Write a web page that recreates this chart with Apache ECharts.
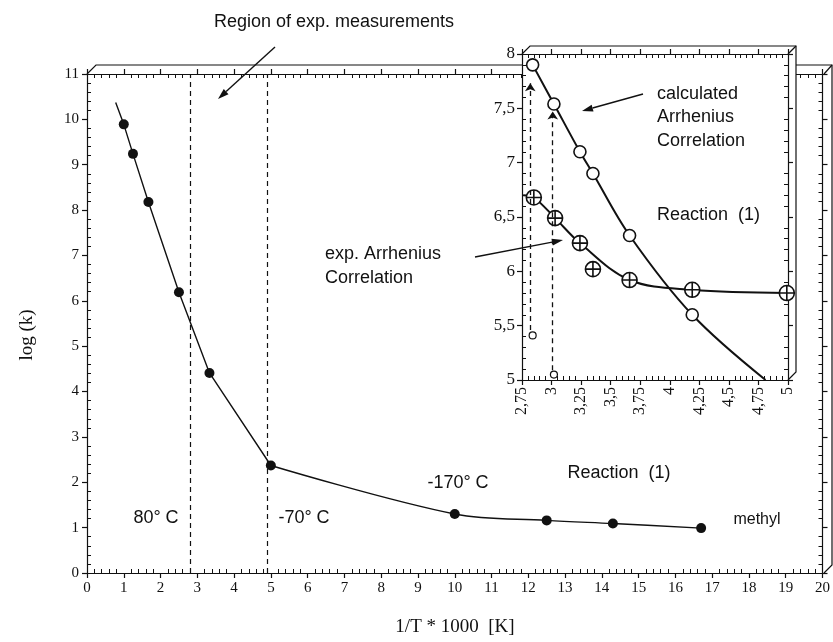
<!DOCTYPE html>
<html><head><meta charset="utf-8">
<script src="https://cdn.jsdelivr.net/npm/echarts@6/dist/echarts.min.js"></script>
<style>html,body{margin:0;padding:0;background:#fff}#c{width:833px;height:642px}</style>
</head><body><div id="c"></div>
<script>
// ---- data ----
// main plot: 1/T*1000 [K] vs log(k)
const mainX = [1.0, 1.25, 1.67, 2.5, 3.33, 5.0, 10.0, 12.5, 14.3, 16.7];
const mainLogK = [9.89, 9.24, 8.18, 6.19, 4.41, 2.37, 1.30, 1.16, 1.09, 0.99];
const mainCurveStart = [0.78, 10.37];
const mainKinkIndex = 5;              // curve is straight up to this point, smooth after
const regionBounds = [2.82, 4.91];    // 80 °C and -70 °C dashed lines
// inset: calculated Arrhenius correlation (open circles)
const calcX = [2.84, 3.02, 3.24, 3.35, 3.66, 4.19];
const calcY = [7.90, 7.54, 7.10, 6.90, 6.33, 5.60];
const calcCurveEnd = [4.81, 5.0];
// inset: experimental Arrhenius correlation (crossed circles)
const expX = [2.85, 3.03, 3.24, 3.35, 3.66, 4.19, 4.99];
const expY = [6.68, 6.49, 6.26, 6.02, 5.92, 5.83, 5.80];
const expCurveStart = [2.76, 6.70];
const expCurveSkip = 3;               // point lying off the fitted curve
// inset: small open circles and dashed arrows
const smallX = [2.84, 3.02];
const smallY = [5.41, 5.05];
const arrowX = [2.82, 3.01];
const arrowFromY = [5.46, 5.09];
const arrowToY = [7.73, 7.47];
// axes
const mainXRange = [0, 20], mainYRange = [0, 11];
const insetXRange = [2.75, 5], insetYRange = [5, 8];

// ---- layout ----
const INK = '#111';
const SERIF = "'Liberation Serif','DejaVu Serif',serif";
const SANS = "'Liberation Sans',Arial,sans-serif";
const MAIN = {l: 87, t: 74, r: 824, b: 573};
const INSET = {l: 522, t: 54, r: 788, b: 380};
const W = 833, H = 642;

const chart = echarts.init(document.getElementById('c'));

function axisPair(dim, gridIndex, position, range, interval, label, z) {
  const common = {type: 'value', gridIndex, position, min: range[0], max: range[1], interval,
    splitLine: {show: false}, z};
  const major = Object.assign({}, common, {
    axisLine: {show: true, onZero: false, lineStyle: {color: INK, width: 1.2}},
    axisTick: {show: true, inside: false, length: 5, lineStyle: {color: INK, width: 1.2}},
    minorTick: {show: false},
    axisLabel: label ? Object.assign({show: true, color: INK, fontFamily: SERIF}, label) : {show: false}
  });
  const minor = Object.assign({}, common, {
    axisLine: {show: false, onZero: false},
    axisTick: {show: false, inside: true},
    minorTick: {show: true, splitNumber: 5, length: 4, lineStyle: {color: INK, width: 1}},
    axisLabel: {show: false}
  });
  return [major, minor];
}
const comma = v => String(+(+v).toFixed(2)).replace('.', ',');

const xAxes = [].concat(
  axisPair('x', 0, 'bottom', mainXRange, 1, {fontSize: 15, margin: 8}, 1),
  axisPair('x', 0, 'top', mainXRange, 1, null, 1),
  axisPair('x', 1, 'bottom', insetXRange, 0.25, {fontSize: 16, margin: 7, rotate: 90, formatter: comma}, 12),
  axisPair('x', 1, 'top', insetXRange, 0.25, null, 12)
);
const yAxes = [].concat(
  axisPair('y', 0, 'left', mainYRange, 1, {fontSize: 15, margin: 8}, 1),
  axisPair('y', 0, 'right', mainYRange, 1, null, 1),
  axisPair('y', 1, 'left', insetYRange, 0.5, {fontSize: 17, margin: 7, formatter: comma}, 12),
  axisPair('y', 1, 'right', insetYRange, 0.5, null, 12)
);

const mainPts = mainX.map((x, i) => [x, mainLogK[i]]);
const mainHead = [mainCurveStart].concat(mainPts.slice(0, mainKinkIndex + 1));
const mainTail = mainPts.slice(mainKinkIndex);
const calcPts = calcX.map((x, i) => [x, calcY[i]]);
const expPts = expX.map((x, i) => [x, expY[i]]);
const expCurve = [expCurveStart].concat(expPts.filter((p, i) => i !== expCurveSkip));
const smallPts = smallX.map((x, i) => [x, smallY[i]]);
const crossCircle = 'path://M0,10 A10,10 0 1,0 20,10 A10,10 0 1,0 0,10 Z M10,0 L10,20 M0,10 L20,10';

const series = [
  {type: 'scatter', xAxisIndex: 0, yAxisIndex: 0, data: mainPts, symbolSize: 10,
   itemStyle: {color: INK, opacity: 1}, z: 3, silent: true,
   markLine: {silent: true, symbol: 'none', label: {show: false}, z: 4,
     lineStyle: {color: INK, width: 1.2, type: [5, 4]},
     data: regionBounds.map(x => ({xAxis: x}))}},
  {type: 'line', xAxisIndex: 0, yAxisIndex: 0, data: mainHead, symbol: 'none',
   lineStyle: {color: INK, width: 1.4}, z: 2, silent: true},
  {type: 'line', xAxisIndex: 0, yAxisIndex: 0, data: mainTail, symbol: 'none', smooth: 0.35,
   lineStyle: {color: INK, width: 1.4}, z: 2, silent: true},
  {type: 'line', xAxisIndex: 4, yAxisIndex: 4, data: calcPts.concat([calcCurveEnd]), symbol: 'none',
   smooth: 0.35, lineStyle: {color: INK, width: 2}, z: 13, silent: true},
  {type: 'scatter', xAxisIndex: 4, yAxisIndex: 4, data: calcPts, symbol: 'circle', symbolSize: 12,
   itemStyle: {color: '#fff', borderColor: INK, borderWidth: 1.6, opacity: 1}, z: 14, silent: true},
  {type: 'line', xAxisIndex: 4, yAxisIndex: 4, data: expCurve, symbol: 'none',
   smooth: 0.35, lineStyle: {color: INK, width: 2}, z: 13, silent: true},
  {type: 'scatter', xAxisIndex: 4, yAxisIndex: 4, data: expPts, symbol: crossCircle, symbolSize: 15,
   itemStyle: {color: '#fff', borderColor: INK, borderWidth: 1.6, opacity: 1}, z: 14, silent: true},
  {type: 'scatter', xAxisIndex: 4, yAxisIndex: 4, data: smallPts, symbol: 'circle', symbolSize: 7,
   itemStyle: {color: '#fff', borderColor: INK, borderWidth: 1.2, opacity: 1}, z: 14, silent: true,
   markLine: {silent: true, z: 16, symbol: ['none', 'arrow'], symbolSize: 8, label: {show: false},
     lineStyle: {color: INK, width: 1.3, type: [5, 4], opacity: 1},
     itemStyle: {color: INK},
     data: arrowX.map((x, i) => [{coord: [x, arrowFromY[i]]}, {coord: [x, arrowToY[i]]}])}}
];

function arrow(x1, y1, x2, y2, z) {
  const a = Math.atan2(y2 - y1, x2 - x1), L = 11, w = 3.5;
  const bx = x2 - L * Math.cos(a), by = y2 - L * Math.sin(a);
  const px = -Math.sin(a) * w, py = Math.cos(a) * w;
  return [
    {type: 'line', z, shape: {x1, y1, x2: bx, y2: by}, style: {stroke: INK, lineWidth: 1.4}},
    {type: 'polygon', z, shape: {points: [[x2, y2], [bx + px, by + py], [bx - px, by - py]]}, style: {fill: INK}}
  ];
}
function txt(s, x, y, size, align, z, font, rot) {
  return {type: 'text', x, y, z, rotation: rot || 0,
    style: {text: s, fill: INK, font: size + 'px ' + (font || SANS), align: align || 'center', verticalAlign: 'middle'}};
}
const d = 8; // pseudo-3D frame depth
const graphic = [
  // main frame
  {type: 'polyline', z: 1, shape: {points: [[MAIN.l, MAIN.t], [MAIN.l + d + 1, MAIN.t - d - 1], [MAIN.r + d, MAIN.t - d - 1], [MAIN.r + d, MAIN.b - d], [MAIN.r, MAIN.b]]},
   style: {stroke: INK, lineWidth: 1.2, fill: null}},
  {type: 'line', z: 1, shape: {x1: MAIN.r, y1: MAIN.t, x2: MAIN.r + d, y2: MAIN.t - d - 1}, style: {stroke: INK, lineWidth: 1.2}},
  // inset white body
  {type: 'polygon', z: 11, shape: {points: [[INSET.l, INSET.t], [INSET.l + d, INSET.t - d], [INSET.r + d, INSET.t - d], [INSET.r + d, INSET.b - d], [INSET.r, INSET.b], [INSET.l, INSET.b]]},
   style: {fill: '#fff'}},
  {type: 'polyline', z: 14, shape: {points: [[INSET.l, INSET.t], [INSET.l + d, INSET.t - d], [INSET.r + d, INSET.t - d], [INSET.r + d, INSET.b - d], [INSET.r, INSET.b]]},
   style: {stroke: INK, lineWidth: 1.2, fill: null}},
  {type: 'line', z: 14, shape: {x1: INSET.r, y1: INSET.t, x2: INSET.r + d, y2: INSET.t - d}, style: {stroke: INK, lineWidth: 1.2}},
  // titles
  txt('1/T * 1000  [K]', 455, 627, 19, 'center', 5, SERIF),
  txt('log (k)', 27, 335, 19, 'center', 5, SERIF, Math.PI / 2),
  // annotations
  txt('Region of exp. measurements', 334, 22, 18, 'center', 5),
  txt('80° C', 156, 518, 18, 'center', 5),
  txt('-70° C', 304, 518, 18, 'center', 5),
  txt('-170° C', 458, 483, 18, 'center', 5),
  txt('Reaction  (1)', 619, 473, 18, 'center', 5),
  txt('methyl', 757, 520, 16, 'center', 5),
  txt('exp. Arrhenius', 325, 254, 18, 'left', 15),
  txt('Correlation', 325, 278, 18, 'left', 15),
  txt('calculated', 657, 94, 18, 'left', 15),
  txt('Arrhenius', 657, 117, 18, 'left', 15),
  txt('Correlation', 657, 141, 18, 'left', 15),
  txt('Reaction  (1)', 657, 215, 18, 'left', 15)
].concat(
  arrow(275, 47, 218, 99, 5),
  arrow(643, 94, 582, 111, 15),
  arrow(475, 257, 563, 240, 15)
);

chart.setOption({
  backgroundColor: '#fff',
  animation: false,
  grid: [
    {left: MAIN.l, top: MAIN.t, right: W - MAIN.r, bottom: H - MAIN.b, show: false, z: 0},
    {left: INSET.l, top: INSET.t, right: W - INSET.r, bottom: H - INSET.b, show: true,
     backgroundColor: '#fff', borderWidth: 0, z: 10}
  ],
  xAxis: xAxes,
  yAxis: yAxes,
  series,
  graphic
});
</script></body></html>
